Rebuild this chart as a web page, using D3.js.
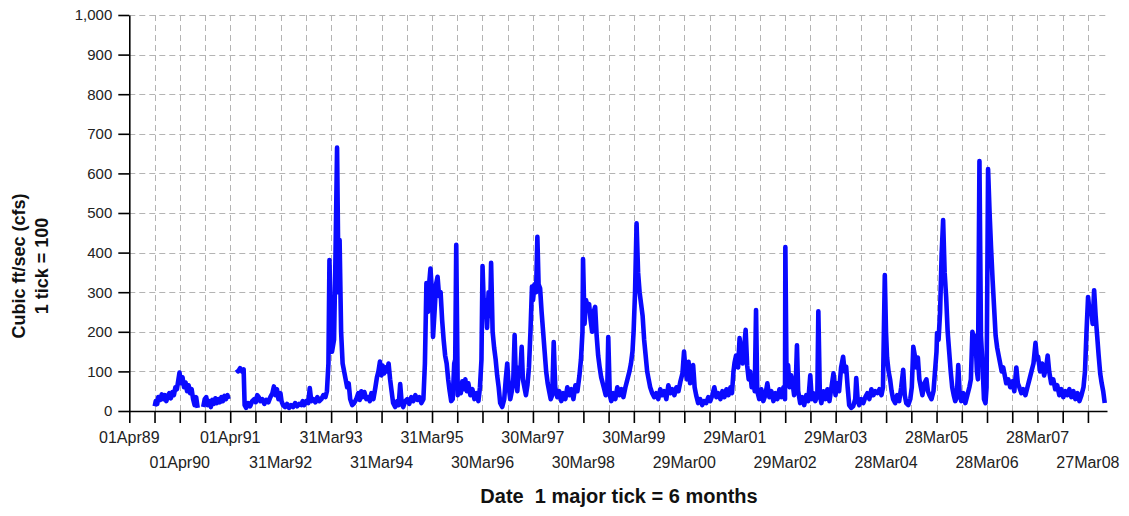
<!DOCTYPE html>
<html><head><meta charset="utf-8">
<script src="https://cdn.jsdelivr.net/npm/d3@7"></script>
<style>
body{margin:0;background:#fff}
svg{display:block}
text{font-family:"Liberation Sans",Arial,Helvetica,sans-serif}
</style>
</head><body>
<svg id="chart" width="1129" height="516"></svg>
<script>
// ---- data ----
const yTickValues = [0,100,200,300,400,500,600,700,800,900,1000];
const xLabelDates = ["1989-04-01","1990-04-01","1991-04-01","1992-03-31","1993-03-31","1994-03-31",
  "1995-03-31","1996-03-30","1997-03-30","1998-03-30","1999-03-30","2000-03-29","2001-03-29",
  "2002-03-29","2003-03-29","2004-03-28","2005-03-28","2006-03-28","2007-03-28","2008-03-27"];
const axisStart = "1989-04-01";
const axisDays = 7073;
const yTitleLines = ["Cubic ft/sec (cfs)", "1 tick = 100"];
const xTitle = "Date  1 major tick = 6 months";
// [decimal year (365-day years from 01Apr89 = 1989.25), cfs]; null = gap in record
const flowSeries = [
[1989.754,12],[1989.774,25],[1989.804,18],[1989.824,35],[1989.864,28],[1989.894,42],[1989.924,30],[1989.954,40],
[1989.984,25],[1990.014,38],[1990.044,45],[1990.074,32],[1990.104,48],[1990.134,40],[1990.164,60],[1990.194,55],
[1990.224,80],[1990.245,97],[1990.275,70],[1990.305,85],[1990.335,60],[1990.365,72],[1990.395,50],[1990.425,65],
[1990.455,45],[1990.485,55],[1990.515,30],[1990.545,15],[1990.575,35],[1990.605,8],[1990.66,null],
[1990.715,10],[1990.745,30],[1990.775,35],[1990.805,15],[1990.835,25],[1990.865,10],[1990.895,28],[1990.925,18],
[1990.955,32],[1990.985,20],[1991.015,30],[1991.045,22],[1991.075,35],[1991.105,25],[1991.135,38],[1991.165,30],
[1991.195,40],[1991.215,30],[1991.3,null],
[1991.376,105],[1991.406,100],[1991.446,108],[1991.486,100],[1991.516,105],[1991.536,15],[1991.566,8],[1991.606,20],
[1991.646,12],[1991.686,25],[1991.726,30],[1991.756,22],[1991.786,40],[1991.816,35],[1991.846,25],[1991.886,30],
[1991.926,18],[1991.966,28],[1992.006,22],[1992.046,35],[1992.086,45],[1992.116,62],[1992.146,40],[1992.176,55],
[1992.206,30],[1992.246,45],[1992.267,25],[1992.297,15],[1992.337,10],[1992.377,18],[1992.417,8],[1992.457,15],
[1992.497,10],[1992.537,20],[1992.577,12],[1992.617,18],[1992.657,15],[1992.687,25],[1992.717,15],[1992.757,25],
[1992.797,20],[1992.827,58],[1992.857,25],[1992.897,30],[1992.937,22],[1992.977,35],[1993.017,25],[1993.057,30],
[1993.097,40],[1993.137,35],[1993.167,50],[1993.197,120],[1993.217,381],[1993.247,200],[1993.268,150],[1993.308,180],
[1993.338,400],[1993.368,665],[1993.398,300],[1993.418,432],[1993.448,200],[1993.478,120],[1993.508,100],[1993.538,80],
[1993.568,60],[1993.598,70],[1993.628,30],[1993.668,15],[1993.708,20],[1993.748,30],[1993.788,45],[1993.818,28],
[1993.848,50],[1993.878,35],[1993.908,48],[1993.948,30],[1993.988,35],[1994.018,25],[1994.048,45],[1994.088,30],
[1994.128,60],[1994.158,85],[1994.188,100],[1994.218,125],[1994.248,90],[1994.269,115],[1994.299,95],[1994.329,110],
[1994.359,100],[1994.389,120],[1994.419,80],[1994.449,50],[1994.479,20],[1994.519,10],[1994.559,25],[1994.589,15],
[1994.619,68],[1994.649,20],[1994.679,10],[1994.719,25],[1994.759,30],[1994.799,18],[1994.839,35],[1994.879,25],
[1994.919,40],[1994.959,28],[1994.999,35],[1995.039,20],[1995.079,30],[1995.109,120],[1995.139,323],[1995.169,250],
[1995.199,330],[1995.219,360],[1995.249,300],[1995.27,187],[1995.30,250],[1995.33,320],[1995.36,339],[1995.39,290],
[1995.42,300],[1995.45,230],[1995.48,180],[1995.51,140],[1995.54,120],[1995.57,80],[1995.60,50],[1995.63,25],
[1995.66,30],[1995.69,120],[1995.71,130],[1995.73,420],[1995.76,40],[1995.79,60],[1995.82,45],[1995.85,75],
[1995.88,55],[1995.91,80],[1995.94,50],[1995.97,70],[1996.01,40],[1996.05,55],[1996.09,30],[1996.13,45],
[1996.17,25],[1996.20,60],[1996.23,130],[1996.251,366],[1996.281,250],[1996.311,280],[1996.341,210],[1996.371,300],
[1996.401,240],[1996.421,374],[1996.451,200],[1996.481,160],[1996.511,130],[1996.541,90],[1996.571,60],[1996.601,20],
[1996.641,10],[1996.681,30],[1996.711,80],[1996.741,120],[1996.771,60],[1996.801,30],[1996.831,50],[1996.861,80],
[1996.887,192],[1996.911,80],[1996.941,50],[1996.971,110],[1997.001,100],[1997.027,162],[1997.051,80],[1997.081,60],
[1997.111,40],[1997.141,65],[1997.171,110],[1997.201,200],[1997.231,314],[1997.252,280],[1997.282,320],[1997.312,300],
[1997.338,440],[1997.362,320],[1997.392,310],[1997.422,250],[1997.452,200],[1997.482,150],[1997.512,100],[1997.542,70],
[1997.572,50],[1997.602,30],[1997.632,40],[1997.662,174],[1997.692,60],[1997.732,35],[1997.772,50],[1997.812,25],
[1997.852,45],[1997.892,30],[1997.932,60],[1997.972,40],[1998.012,55],[1998.052,30],[1998.092,65],[1998.132,50],
[1998.172,90],[1998.202,130],[1998.232,200],[1998.243,384],[1998.273,220],[1998.303,280],[1998.333,260],[1998.363,270],
[1998.393,230],[1998.423,200],[1998.453,250],[1998.483,263],[1998.513,190],[1998.543,140],[1998.573,110],[1998.603,85],
[1998.633,70],[1998.663,55],[1998.693,40],[1998.723,50],[1998.743,187],[1998.773,40],[1998.803,25],[1998.843,45],
[1998.883,30],[1998.923,60],[1998.963,40],[1999.003,55],[1999.043,35],[1999.083,60],[1999.123,80],[1999.163,100],
[1999.193,120],[1999.223,150],[1999.245,200],[1999.274,300],[1999.304,474],[1999.334,350],[1999.364,300],[1999.394,270],
[1999.424,240],[1999.454,180],[1999.484,140],[1999.514,100],[1999.544,80],[1999.574,60],[1999.614,45],[1999.654,35],
[1999.694,45],[1999.734,30],[1999.774,55],[1999.814,40],[1999.854,50],[1999.894,30],[1999.934,65],[1999.974,45],
[2000.014,55],[2000.054,40],[2000.094,60],[2000.134,50],[2000.174,75],[2000.214,95],[2000.245,150],[2000.275,100],
[2000.305,80],[2000.335,124],[2000.365,70],[2000.395,90],[2000.425,116],[2000.455,60],[2000.485,40],[2000.525,20],
[2000.565,30],[2000.605,15],[2000.645,25],[2000.685,20],[2000.725,35],[2000.765,25],[2000.805,40],[2000.845,60],
[2000.885,35],[2000.925,45],[2000.965,30],[2001.005,50],[2001.045,35],[2001.085,55],[2001.125,40],[2001.165,60],
[2001.195,45],[2001.225,100],[2001.246,122],[2001.276,140],[2001.316,110],[2001.346,184],[2001.376,150],[2001.406,120],
[2001.436,160],[2001.466,205],[2001.496,115],[2001.526,80],[2001.556,100],[2001.586,60],[2001.616,80],[2001.646,50],
[2001.672,255],[2001.696,50],[2001.736,30],[2001.776,55],[2001.816,25],[2001.856,40],[2001.896,70],[2001.936,35],
[2001.976,50],[2002.016,25],[2002.056,45],[2002.096,30],[2002.136,55],[2002.176,35],[2002.216,60],[2002.246,30],
[2002.253,414],[2002.277,80],[2002.307,116],[2002.337,60],[2002.367,90],[2002.397,70],[2002.427,40],[2002.457,60],
[2002.483,166],[2002.507,50],[2002.547,20],[2002.587,35],[2002.627,15],[2002.667,40],[2002.707,25],[2002.747,90],
[2002.777,30],[2002.807,45],[2002.847,25],[2002.887,40],[2002.907,252],[2002.937,40],[2002.967,20],[2003.007,50],
[2003.047,30],[2003.087,55],[2003.127,25],[2003.167,60],[2003.207,95],[2003.247,40],[2003.278,70],[2003.318,50],
[2003.358,110],[2003.398,137],[2003.428,100],[2003.458,112],[2003.488,60],[2003.518,15],[2003.558,8],[2003.598,12],
[2003.638,30],[2003.658,83],[2003.688,25],[2003.718,15],[2003.758,30],[2003.798,20],[2003.838,35],[2003.878,45],
[2003.918,30],[2003.958,55],[2003.998,40],[2004.038,50],[2004.078,45],[2004.118,55],[2004.158,40],[2004.188,60],
[2004.224,343],[2004.248,200],[2004.269,135],[2004.299,100],[2004.329,80],[2004.359,50],[2004.389,30],[2004.429,20],
[2004.469,40],[2004.509,25],[2004.549,60],[2004.589,104],[2004.619,40],[2004.649,20],[2004.689,15],[2004.729,30],
[2004.759,60],[2004.789,162],[2004.819,140],[2004.849,110],[2004.879,135],[2004.909,80],[2004.939,60],[2004.969,40],
[2005.009,70],[2005.049,80],[2005.079,50],[2005.109,40],[2005.149,30],[2005.189,50],[2005.219,100],[2005.249,150],
[2005.26,197],[2005.29,180],[2005.32,250],[2005.35,394],[2005.38,482],[2005.41,350],[2005.44,288],[2005.47,200],
[2005.50,150],[2005.53,100],[2005.56,60],[2005.59,40],[2005.62,25],[2005.65,35],[2005.68,116],[2005.71,40],
[2005.74,25],[2005.78,45],[2005.82,20],[2005.86,40],[2005.90,60],[2005.93,80],[2005.96,200],[2005.99,180],
[2006.02,190],[2006.05,100],[2006.07,80],[2006.10,631],[2006.13,190],[2006.16,120],[2006.19,30],[2006.22,20],
[2006.241,60],[2006.271,611],[2006.301,500],[2006.331,410],[2006.361,330],[2006.391,260],[2006.421,190],[2006.451,160],
[2006.481,140],[2006.511,120],[2006.541,100],[2006.571,110],[2006.601,90],[2006.631,70],[2006.671,80],[2006.711,60],
[2006.751,75],[2006.791,50],[2006.831,110],[2006.861,70],[2006.891,60],[2006.931,45],[2006.971,55],[2007.011,40],
[2007.051,60],[2007.091,80],[2007.131,100],[2007.171,120],[2007.211,172],[2007.241,130],[2007.262,137],[2007.302,100],
[2007.342,120],[2007.382,90],[2007.422,110],[2007.452,140],[2007.482,100],[2007.522,70],[2007.562,80],[2007.602,55],
[2007.642,65],[2007.682,40],[2007.722,55],[2007.762,35],[2007.802,50],[2007.842,40],[2007.882,55],[2007.922,35],
[2007.962,50],[2008.002,30],[2008.042,45],[2008.082,25],[2008.122,40],[2008.162,60],[2008.192,100],[2008.222,200],
[2008.253,288],[2008.283,250],[2008.313,263],[2008.343,220],[2008.373,305],[2008.403,240],[2008.433,190],[2008.463,140],
[2008.493,95],[2008.523,70],[2008.553,50],[2008.583,20]
];

// ---- chart ----
const DAY = 864e5;
const parse = d3.utcParse("%Y-%m-%d");
const fmt = d3.utcFormat("%d%b%y");
const start = parse(axisStart);
const end = new Date(+start + axisDays * DAY);
const toDate = yr => new Date(+start + (yr - 1989.25) * 365 * DAY);

const L = 129.3, R = 1107, T = 15, B = 411;
const x = d3.scaleUtc().domain([start, end]).range([L, R]);
const y = d3.scaleLinear().domain([0, 1000]).range([B, T]);

const labels = xLabelDates.map(parse);
const ticks = [];
labels.forEach((d, i) => {
  ticks.push(d);
  const mid = new Date(+d + 182.5 * DAY);
  if (mid <= end) ticks.push(mid);
});

const svg = d3.select("#chart");

// grid
const grid = svg.append("g").attr("stroke", "#b4b4b4").attr("stroke-width", 1).attr("stroke-dasharray", "6,4");
grid.selectAll(".gv").data(ticks.slice(1)).enter().append("line")
  .attr("x1", d => Math.round(x(d)) + 0.5).attr("x2", d => Math.round(x(d)) + 0.5)
  .attr("y1", T).attr("y2", B);
grid.selectAll(".gh").data(yTickValues.filter(v => v > 0)).enter().append("line")
  .attr("x1", L).attr("x2", R)
  .attr("y1", d => Math.round(y(d)) + 0.5).attr("y2", d => Math.round(y(d)) + 0.5);

// flow line
const line = d3.line()
  .defined(d => d[1] != null)
  .x(d => x(toDate(d[0])))
  .y(d => y(d[1]));
svg.append("path").datum(flowSeries)
  .attr("fill", "none").attr("stroke", "#0a0aff").attr("stroke-width", 4.6)
  .attr("stroke-linejoin", "round").attr("stroke-linecap", "butt")
  .attr("d", line);

// x axis
const xAxis = svg.append("g").attr("transform", `translate(0,${B})`)
  .call(d3.axisBottom(x).tickValues(ticks).tickSize(12).tickSizeOuter(0).tickFormat(""));
xAxis.select(".domain").attr("stroke", "#000").attr("stroke-width", 1.6);
xAxis.selectAll(".tick line").attr("stroke", "#000").attr("stroke-width", 1.6);

svg.append("g").selectAll("text").data(labels).enter().append("text")
  .attr("x", d => x(d)).attr("y", (d, i) => i % 2 === 0 ? 443 : 468)
  .attr("text-anchor", "middle").attr("font-size", 16).attr("fill", "#222")
  .text(d => fmt(d));

// y axis
const yAxis = svg.append("g").attr("transform", `translate(${L},0)`)
  .call(d3.axisLeft(y).tickValues(yTickValues).tickSize(11).tickSizeOuter(0).tickPadding(6).tickFormat(d3.format(",")));
yAxis.select(".domain").attr("stroke", "#000").attr("stroke-width", 1.6);
yAxis.selectAll(".tick line").attr("stroke", "#000").attr("stroke-width", 1.6);
yAxis.selectAll(".tick text").attr("font-size", 15).attr("fill", "#222")
  .attr("font-family", "'Liberation Sans',Arial,sans-serif");

// titles
svg.selectAll(".ytitle").data(yTitleLines).enter().append("text")
  .attr("transform", (d, i) => `translate(${i === 0 ? 25 : 48},266) rotate(-90)`)
  .attr("text-anchor", "middle").attr("font-size", 18).attr("font-weight", "bold").attr("fill", "#111")
  .text(d => d);
svg.append("text").attr("x", 619).attr("y", 503).attr("text-anchor", "middle")
  .style("white-space", "pre")
  .attr("font-size", 20).attr("font-weight", "bold").attr("fill", "#111").text(xTitle);
</script>
</body></html>
